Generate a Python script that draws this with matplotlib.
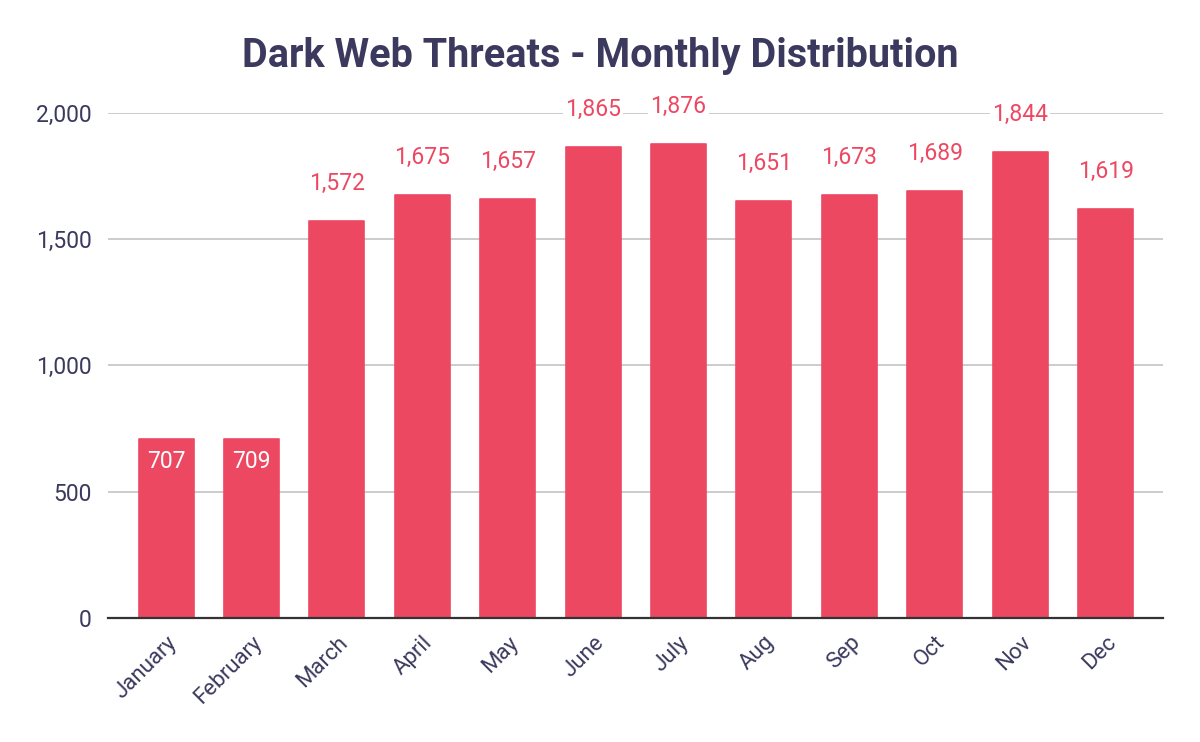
import matplotlib
matplotlib.use("Agg")
import matplotlib.pyplot as plt

months = ["January", "February", "March", "April", "May", "June",
          "July", "Aug", "Sep", "Oct", "Nov", "Dec"]
threats = [707, 709, 1572, 1675, 1657, 1865, 1876, 1651, 1673, 1689, 1844, 1619]
inside = [True, True] + [False] * 10

bar_color = "#ed4862"
text_color = "#3b3a5e"

plt.rcParams['font.family'] = ['Roboto', 'DejaVu Sans']

fig = plt.figure(figsize=(12, 7.42), dpi=100)
ax = fig.add_axes([0.09, 0.167, 0.879, 0.681])

x = range(len(months))
bars = ax.bar(x, threats, width=0.645, color=bar_color, edgecolor=bar_color,
              linewidth=1.2, joinstyle='round', zorder=3)

for b, v, ins in zip(bars, threats, inside):
    cx = b.get_x() + b.get_width() / 2
    if ins:
        ax.annotate(f"{v:,}", (cx, v), xytext=(0, -16), textcoords='offset points',
                    ha='center', va='center', color='white', fontsize=16.5, zorder=4)
    else:
        ax.annotate(f"{v:,}", (cx, v), xytext=(0, 27), textcoords='offset points',
                    ha='center', va='center', color=bar_color, fontsize=16.5, zorder=4,
                    annotation_clip=False,
                    bbox=dict(boxstyle='square,pad=0.1', fc='white', ec='none'))

ax.set_xlim(-0.68, 11.67)
ax.set_ylim(0, 2000)
ax.set_yticks([0, 500, 1000, 1500, 2000])
ax.set_yticklabels([f"{t:,}" for t in [0, 500, 1000, 1500, 2000]])
ax.set_xticks(list(x))
ax.set_xticklabels(months, rotation=45, ha='right', rotation_mode='anchor')

ax.grid(axis='y', color='#c8c8c8', linewidth=1.3, zorder=0)
ax.set_axisbelow(True)
for s in ['top', 'right', 'left']:
    ax.spines[s].set_visible(False)
ax.spines['bottom'].set_color('#333333')
ax.spines['bottom'].set_linewidth(1.6)
ax.spines['bottom'].set_zorder(5)
ax.tick_params(axis='both', length=0, colors=text_color)
ax.tick_params(axis='x', pad=10, labelsize=16)
ax.tick_params(axis='y', pad=12, labelsize=16.5)

fig.text(0.5, 0.925, "Dark Web Threats - Monthly Distribution", ha='center', va='center',
         fontsize=28.5, fontweight='bold', color=text_color)

fig.savefig("out.png", dpi=100, facecolor='white')
